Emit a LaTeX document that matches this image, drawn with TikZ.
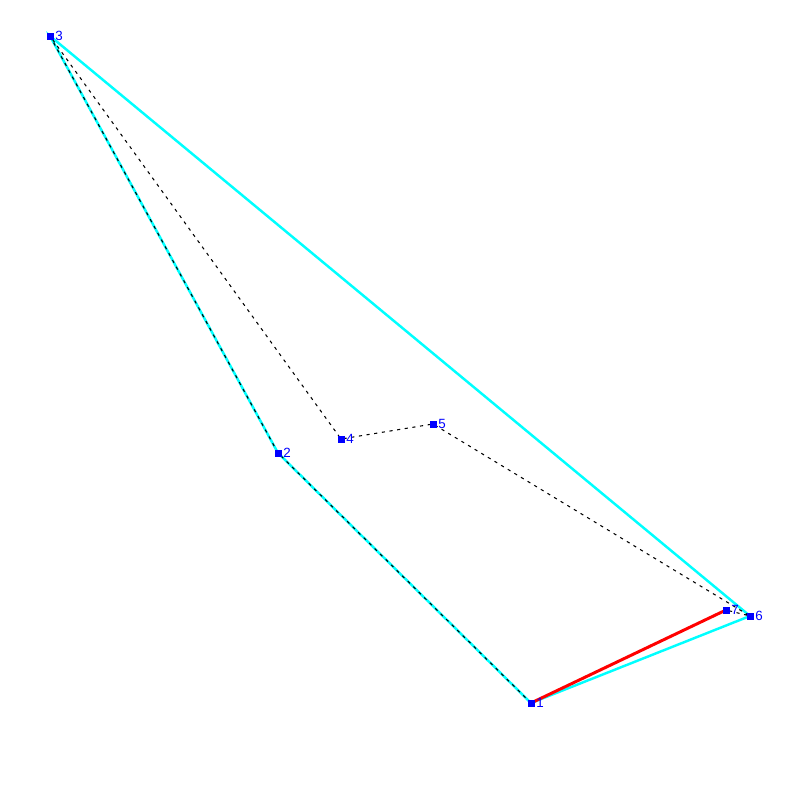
\documentclass[tikz,border=0pt]{standalone}
\usepackage{fontspec}
\setmainfont{Liberation Sans}
\definecolor{hullcyan}{RGB}{0,255,255}
\definecolor{ptblue}{RGB}{0,0,255}
\definecolor{edgered}{RGB}{255,0,0}
\begin{document}
\begin{tikzpicture}[x=0.01cm,y=-0.01cm,
  pt/.style={fill=ptblue,inner sep=0pt,minimum size=7*0.01cm,draw=none,rectangle},
  lbl/.style={text=ptblue,font=\fontsize{3.8}{3.8}\selectfont,inner sep=0pt,anchor=west},
  hull/.style={hullcyan,line width=0.7pt},
  redline/.style={edgered,line width=0.85pt},
  path/.style={black,line width=0.3pt,dash pattern=on 0.9pt off 1.3pt}]
\useasboundingbox (0,0) rectangle (800,800);
\coordinate (c1) at (531,703);
\coordinate (c2) at (278,453);
\coordinate (c3) at (50,36);
\coordinate (c4) at (341,439);
\coordinate (c5) at (433,424);
\coordinate (c6) at (750,616);
\coordinate (c7) at (726,610);
\draw[hull] (c1) -- (c2) -- (c3) -- (c6) -- cycle;
\draw[redline] (c1) -- (c7);
\draw[path] (c1) -- (c2) -- (c3) -- (c4) -- (c5) -- (c6) -- (c7);
\foreach \i in {1,...,7} {
  \node[pt] (p\i) at (c\i) {};
  \node[lbl] (l\i) at ([xshift=0.5*0.01cm]p\i.east) {\i};
}
\end{tikzpicture}
\end{document}
